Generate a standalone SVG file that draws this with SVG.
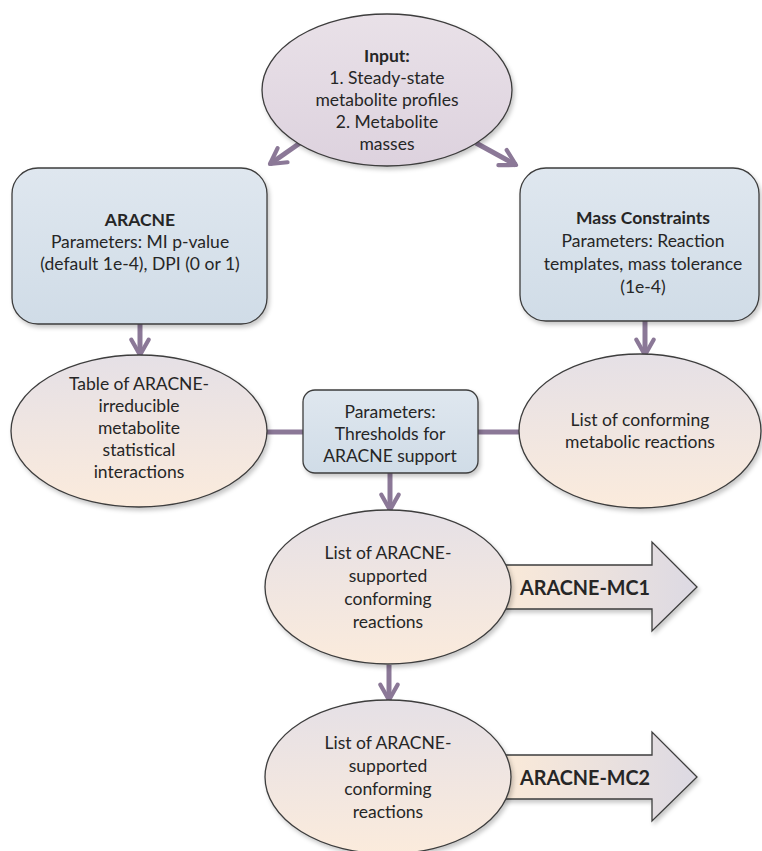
<svg xmlns="http://www.w3.org/2000/svg" width="762" height="851" viewBox="0 0 762 851">
<defs>
<linearGradient id="gTop" x1="0" y1="0" x2="0" y2="1"><stop offset="0" stop-color="#e9e1e8"/><stop offset="1" stop-color="#ddd2de"/></linearGradient>
<linearGradient id="gBox" x1="0" y1="0" x2="0" y2="1"><stop offset="0" stop-color="#dfe7ef"/><stop offset="1" stop-color="#d0dce7"/></linearGradient>
<linearGradient id="gEll" x1="0" y1="0" x2="0" y2="1"><stop offset="0" stop-color="#e5e0e6"/><stop offset="1" stop-color="#fbebdc"/></linearGradient>
<linearGradient id="gArr" x1="0" y1="0" x2="1" y2="0"><stop offset="0" stop-color="#fbead8"/><stop offset="1" stop-color="#dcd9e3"/></linearGradient>
<filter id="sh" x="-10%" y="-10%" width="125%" height="130%"><feDropShadow dx="2" dy="3" stdDeviation="2" flood-color="#000" flood-opacity="0.22"/></filter>
<marker id="ah" viewBox="0 0 12 12" refX="10" refY="6" markerWidth="4.6" markerHeight="4.6" orient="auto" markerUnits="strokeWidth">
<path d="M2,1.5 L10,6 L2,10.5" fill="none" stroke="#8b7897" stroke-width="2.2" stroke-linecap="round" stroke-linejoin="round"/>
</marker>
<style>
.shape{stroke:#3d3d3d;stroke-width:1.3}
.t{font-family:Lato,"Liberation Sans",sans-serif;font-size:17.5px;fill:#262626;text-anchor:middle}
.b{font-weight:bold}
.big{font-size:21px}
.con{stroke:#8b7897;stroke-width:5;fill:none;stroke-linecap:butt}
</style>
</defs>
<rect width="762" height="851" fill="#ffffff"/>

<g id="connectors">
<line class="con" x1="300" y1="143" x2="270" y2="164" marker-end="url(#ah)"/>
<line class="con" x1="476" y1="143" x2="516" y2="165" marker-end="url(#ah)"/>
<line class="con" x1="140" y1="324" x2="140" y2="355" marker-end="url(#ah)"/>
<line class="con" x1="645" y1="321" x2="645" y2="355" marker-end="url(#ah)"/>
<line class="con" x1="264" y1="432" x2="304" y2="432"/>
<line class="con" x1="477" y1="432" x2="522" y2="432"/>
<line class="con" x1="390" y1="473" x2="390" y2="510" marker-end="url(#ah)"/>
<line class="con" x1="389" y1="665" x2="389" y2="700" marker-end="url(#ah)"/>
</g>

<g id="input">
<ellipse class="shape" cx="387" cy="90" rx="125" ry="76" fill="url(#gTop)" filter="url(#sh)"/>
<text class="t b" x="387" y="62">Input:</text>
<text class="t" x="387" y="84">1. Steady-state</text>
<text class="t" x="387" y="106">metabolite profiles</text>
<text class="t" x="387" y="128">2. Metabolite</text>
<text class="t" x="387" y="150">masses</text>
</g>

<g id="aracne">
<rect class="shape" x="12" y="168" width="255" height="156" rx="26" fill="url(#gBox)" filter="url(#sh)"/>
<text class="t b" x="140" y="226">ARACNE</text>
<text class="t" x="140" y="248">Parameters: MI p-value</text>
<text class="t" x="140" y="270">(default 1e-4), DPI (0 or 1)</text>
</g>

<g id="mass">
<rect class="shape" x="520" y="168" width="239" height="153" rx="26" fill="url(#gBox)" filter="url(#sh)"/>
<text class="t b" x="643" y="224">Mass Constraints</text>
<text class="t" x="643" y="247">Parameters: Reaction</text>
<text class="t" x="643" y="270">templates, mass tolerance</text>
<text class="t" x="643" y="293">(1e-4)</text>
</g>

<g id="table">
<ellipse class="shape" cx="139" cy="431" rx="128" ry="76" fill="url(#gEll)" filter="url(#sh)"/>
<text class="t" x="139" y="390">Table of ARACNE-</text>
<text class="t" x="139" y="412">irreducible</text>
<text class="t" x="139" y="434">metabolite</text>
<text class="t" x="139" y="456">statistical</text>
<text class="t" x="139" y="478">interactions</text>
</g>

<g id="thresholds">
<rect class="shape" x="303" y="390" width="175" height="83" rx="12" fill="url(#gBox)" filter="url(#sh)"/>
<text class="t" x="390" y="418">Parameters:</text>
<text class="t" x="390" y="440">Thresholds for</text>
<text class="t" x="390" y="462">ARACNE support</text>
</g>

<g id="conforming">
<ellipse class="shape" cx="640" cy="431" rx="121" ry="77" fill="url(#gEll)" filter="url(#sh)"/>
<text class="t" x="640" y="426">List of conforming</text>
<text class="t" x="640" y="448">metabolic reactions</text>
</g>

<g id="mc1">
<path class="shape" d="M500,565 H652 V542 L697,587 L652,631 V609 H500 Z" fill="url(#gArr)" filter="url(#sh)"/>
<ellipse class="shape" cx="388" cy="587" rx="123" ry="77" fill="url(#gEll)" filter="url(#sh)"/>
<text class="t" x="388" y="559">List of ARACNE-</text>
<text class="t" x="388" y="582">supported</text>
<text class="t" x="388" y="605">conforming</text>
<text class="t" x="388" y="628">reactions</text>
<text class="t b big" x="585" y="595" textLength="130" lengthAdjust="spacingAndGlyphs">ARACNE-MC1</text>
</g>

<g id="mc2">
<path class="shape" d="M500,755 H652 V732 L697,777 L652,821 V799 H500 Z" fill="url(#gArr)" filter="url(#sh)"/>
<ellipse class="shape" cx="388" cy="777" rx="123" ry="77" fill="url(#gEll)" filter="url(#sh)"/>
<text class="t" x="388" y="749">List of ARACNE-</text>
<text class="t" x="388" y="772">supported</text>
<text class="t" x="388" y="795">conforming</text>
<text class="t" x="388" y="818">reactions</text>
<text class="t b big" x="585" y="785" textLength="130" lengthAdjust="spacingAndGlyphs">ARACNE-MC2</text>
</g>
</svg>
